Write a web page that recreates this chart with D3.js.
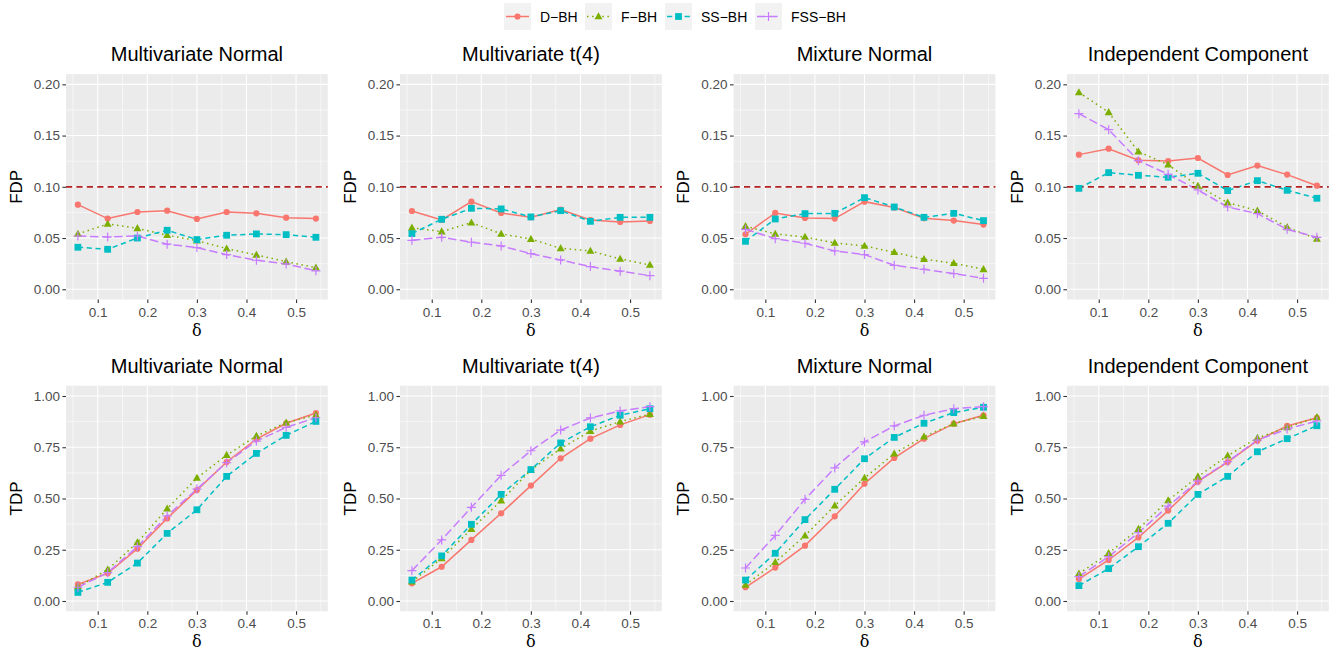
<!DOCTYPE html>
<html>
<head>
<meta charset="utf-8">
<script src="https://cdn.jsdelivr.net/npm/d3@7"></script>
<style>
  html, body { margin: 0; padding: 0; background: #ffffff; }
  svg { display: block; font-family: "Liberation Sans", Arial, Helvetica, sans-serif; }
</style>
</head>
<body>
<svg id="chart" width="1331" height="656"></svg>
<script>
// ---------------- DATA ----------------
const deltas = [0.06, 0.12, 0.18, 0.24, 0.30, 0.36, 0.42, 0.48, 0.54];
const methods = ["D\u2212BH", "F\u2212BH", "SS\u2212BH", "FSS\u2212BH"];
const scenarios = ["Multivariate Normal", "Multivariate t(4)", "Mixture Normal", "Independent Component"];
const xTicks = [0.1, 0.2, 0.3, 0.4, 0.5];
const fdpTicks = [0.00, 0.05, 0.10, 0.15, 0.20];
const tdpTicks = [0.00, 0.25, 0.50, 0.75, 1.00];
const fdpLevel = 0.10;

// FDP: one row per scenario (Normal, t(4), Mixture, Independent Component)
const fdpD = [
  [0.0826, 0.0690, 0.0754, 0.0767, 0.0686, 0.0754, 0.0741, 0.0699, 0.0690],
  [0.0764, 0.0676, 0.0855, 0.0745, 0.0702, 0.0777, 0.0676, 0.0657, 0.0667],
  [0.0537, 0.0745, 0.0696, 0.0690, 0.0855, 0.0797, 0.0693, 0.0670, 0.0631],
  [0.1314, 0.1372, 0.1259, 0.1252, 0.1281, 0.1115, 0.1207, 0.1119, 0.1011]
];
const fdpF = [
  [0.0540, 0.0637, 0.0595, 0.0527, 0.0475, 0.0397, 0.0335, 0.0270, 0.0210],
  [0.0600, 0.0563, 0.0650, 0.0540, 0.0490, 0.0400, 0.0374, 0.0296, 0.0237],
  [0.0615, 0.0540, 0.0510, 0.0452, 0.0423, 0.0361, 0.0293, 0.0254, 0.0195],
  [0.1922, 0.1727, 0.1343, 0.1216, 0.1008, 0.0846, 0.0767, 0.0605, 0.0491]
];
const fdpSS = [
  [0.0410, 0.0390, 0.0500, 0.0576, 0.0485, 0.0527, 0.0540, 0.0533, 0.0507],
  [0.0543, 0.0683, 0.0790, 0.0784, 0.0706, 0.0767, 0.0663, 0.0702, 0.0702],
  [0.0468, 0.0686, 0.0738, 0.0741, 0.0894, 0.0803, 0.0702, 0.0741, 0.0670],
  [0.0985, 0.1138, 0.1112, 0.1093, 0.1132, 0.0963, 0.1060, 0.0966, 0.0888]
];
const fdpFSS = [
  [0.0520, 0.0510, 0.0520, 0.0440, 0.0407, 0.0338, 0.0283, 0.0247, 0.0180],
  [0.0478, 0.0507, 0.0459, 0.0423, 0.0348, 0.0286, 0.0221, 0.0176, 0.0133],
  [0.0585, 0.0494, 0.0449, 0.0374, 0.0338, 0.0234, 0.0195, 0.0153, 0.0107],
  [0.1714, 0.1558, 0.1255, 0.1122, 0.0969, 0.0803, 0.0738, 0.0585, 0.0507]
];

// TDP: one row per scenario
const tdpD = [
  [0.081, 0.135, 0.255, 0.403, 0.541, 0.678, 0.790, 0.867, 0.917],
  [0.086, 0.167, 0.298, 0.428, 0.563, 0.696, 0.792, 0.859, 0.909],
  [0.067, 0.163, 0.270, 0.413, 0.572, 0.698, 0.792, 0.865, 0.906],
  [0.107, 0.200, 0.310, 0.441, 0.582, 0.678, 0.782, 0.854, 0.894]
];
const tdpF = [
  [0.070, 0.153, 0.286, 0.450, 0.600, 0.712, 0.805, 0.870, 0.907],
  [0.094, 0.208, 0.351, 0.489, 0.639, 0.743, 0.829, 0.875, 0.912],
  [0.078, 0.189, 0.319, 0.465, 0.600, 0.719, 0.802, 0.865, 0.902],
  [0.133, 0.233, 0.351, 0.491, 0.607, 0.709, 0.795, 0.847, 0.896]
];
const tdpSS = [
  [0.042, 0.091, 0.185, 0.330, 0.445, 0.608, 0.720, 0.808, 0.876],
  [0.102, 0.220, 0.374, 0.520, 0.641, 0.771, 0.850, 0.906, 0.938],
  [0.102, 0.233, 0.397, 0.545, 0.694, 0.798, 0.867, 0.919, 0.945],
  [0.075, 0.158, 0.265, 0.379, 0.520, 0.608, 0.728, 0.792, 0.855]
];
const tdpFSS = [
  [0.067, 0.138, 0.265, 0.415, 0.546, 0.675, 0.780, 0.847, 0.894],
  [0.148, 0.298, 0.457, 0.613, 0.733, 0.834, 0.893, 0.927, 0.948],
  [0.161, 0.320, 0.496, 0.649, 0.776, 0.854, 0.906, 0.938, 0.948],
  [0.119, 0.216, 0.333, 0.463, 0.585, 0.680, 0.785, 0.839, 0.878]
];

// ---------------- STYLE ----------------
const colors = ["#F8766D", "#7CAE00", "#00BFC4", "#C77CFF"];
const dashes = [null, "1.5,3.6", "5.2,3.6", "8.5,3.6"];
const shapes = ["circle", "triangle", "square", "plus"];

const svg = d3.select("#chart");
const colLefts = [66, 400, 733.6, 1067];
const plotW = 261.8;
const rows = [
  { top: 74.1, bottom: 299.5, titleY: 61, label: "FDP", domain: [-0.01, 0.21], ticks: fdpTicks,
    minor: [0.025, 0.075, 0.125, 0.175], data: [fdpD, fdpF, fdpSS, fdpFSS], hline: true },
  { top: 385.75, bottom: 611.25, titleY: 373, label: "TDP", domain: [-0.05, 1.05], ticks: tdpTicks,
    minor: [0.125, 0.375, 0.625, 0.875], data: [tdpD, tdpF, tdpSS, tdpFSS], hline: false }
];
const xMinor = [0.05, 0.15, 0.25, 0.35, 0.45, 0.55];

function drawShape(g, shape, x, y, color) {
  if (shape === "circle") {
    g.append("circle").attr("cx", x).attr("cy", y).attr("r", 3.1).attr("fill", color);
  } else if (shape === "triangle") {
    const s = 4.2;
    g.append("path").attr("d", `M${x},${y - s}L${x + s * 0.95},${y + s * 0.68}L${x - s * 0.95},${y + s * 0.68}Z`).attr("fill", color);
  } else if (shape === "square") {
    const s = 3.4;
    g.append("rect").attr("x", x - s).attr("y", y - s).attr("width", 2 * s).attr("height", 2 * s).attr("fill", color);
  } else {
    const s = 4.5;
    g.append("path").attr("d", `M${x - s},${y}H${x + s}M${x},${y - s}V${y + s}`)
      .attr("stroke", color).attr("stroke-width", 1.2).attr("fill", "none");
  }
}

rows.forEach(row => {
  scenarios.forEach((scen, si) => {
    const left = colLefts[si];
    const x = d3.scaleLinear().domain([0.036, 0.564]).range([left, left + plotW]);
    const y = d3.scaleLinear().domain(row.domain).range([row.bottom, row.top]);
    const g = svg.append("g");

    // panel background
    g.append("rect").attr("x", left).attr("y", row.top)
      .attr("width", plotW).attr("height", row.bottom - row.top).attr("fill", "#EBEBEB");

    // minor grid
    row.minor.forEach(v => g.append("line").attr("x1", left).attr("x2", left + plotW)
      .attr("y1", y(v)).attr("y2", y(v)).attr("stroke", "#ffffff").attr("stroke-width", 0.55));
    xMinor.forEach(v => g.append("line").attr("x1", x(v)).attr("x2", x(v))
      .attr("y1", row.top).attr("y2", row.bottom).attr("stroke", "#ffffff").attr("stroke-width", 0.55));
    // major grid
    row.ticks.forEach(v => g.append("line").attr("x1", left).attr("x2", left + plotW)
      .attr("y1", y(v)).attr("y2", y(v)).attr("stroke", "#ffffff").attr("stroke-width", 1.1));
    xTicks.forEach(v => g.append("line").attr("x1", x(v)).attr("x2", x(v))
      .attr("y1", row.top).attr("y2", row.bottom).attr("stroke", "#ffffff").attr("stroke-width", 1.1));

    // axes
    const xAxis = d3.axisBottom(x).tickValues(xTicks).tickFormat(d3.format(".1f")).tickSize(3.6).tickPadding(4);
    const yAxis = d3.axisLeft(y).tickValues(row.ticks).tickFormat(d3.format(".2f")).tickSize(3.6).tickPadding(2.4);
    const xa = g.append("g").attr("transform", `translate(0,${row.bottom})`).call(xAxis);
    const ya = g.append("g").attr("transform", `translate(${left},0)`).call(yAxis);
    [xa, ya].forEach(a => {
      a.select(".domain").remove();
      a.selectAll(".tick line").attr("stroke", "#333333").attr("stroke-width", 1.1);
      a.selectAll(".tick text").attr("fill", "#4D4D4D").style("font-size", "13.5px")
        .style("font-family", "'Liberation Sans', Arial, sans-serif");
    });

    // lines
    const line = d3.line().x((d, i) => x(deltas[i])).y(d => y(d));
    row.data.forEach((arr, mi) => {
      const p = g.append("path").datum(arr[si]).attr("d", line)
        .attr("fill", "none").attr("stroke", colors[mi]).attr("stroke-width", 1.5);
      if (dashes[mi]) p.attr("stroke-dasharray", dashes[mi]);
    });

    // reference line
    if (row.hline) {
      g.append("line").attr("x1", left).attr("x2", left + plotW)
        .attr("y1", y(fdpLevel)).attr("y2", y(fdpLevel))
        .attr("stroke", "#B22222").attr("stroke-width", 1.7).attr("stroke-dasharray", "6.2,4.2");
    }

    // points
    row.data.forEach((arr, mi) => {
      arr[si].forEach((v, i) => drawShape(g, shapes[mi], x(deltas[i]), y(v), colors[mi]));
    });

    // title
    g.append("text").attr("x", left + plotW / 2).attr("y", row.titleY)
      .attr("text-anchor", "middle").attr("fill", "#000").style("font-size", "20px").text(scen);
    // y label
    g.append("text").attr("transform", `translate(${left - 50.5},${(row.top + row.bottom) / 2}) rotate(-90)`)
      .attr("text-anchor", "middle").attr("dy", "0.36em").attr("fill", "#000").style("font-size", "17px").text(row.label);
    // x label
    g.append("text").attr("x", left + plotW / 2).attr("y", row.bottom + 36)
      .attr("text-anchor", "middle").attr("fill", "#000")
      .style("font-family", "'DejaVu Serif', 'Liberation Serif', serif").style("font-size", "16px").text("\u03B4");
  });
});

// ---------------- LEGEND ----------------
const legendKeyX = [504, 585, 665, 755];
const legend = svg.append("g");
methods.forEach((m, mi) => {
  const kx = legendKeyX[mi];
  legend.append("rect").attr("x", kx).attr("y", 3).attr("width", 27).attr("height", 27).attr("fill", "#F2F2F2");
  const l = legend.append("line").attr("x1", kx + 2).attr("x2", kx + 25).attr("y1", 16.5).attr("y2", 16.5)
    .attr("stroke", colors[mi]).attr("stroke-width", 1.5);
  if (dashes[mi]) l.attr("stroke-dasharray", dashes[mi]);
  drawShape(legend, shapes[mi], kx + 13.5, 16.5, colors[mi]);
  legend.append("text").attr("x", kx + 36).attr("y", 16.5).attr("dy", "0.36em")
    .attr("fill", "#000").style("font-size", "14px").text(m);
});
</script>
</body>
</html>
